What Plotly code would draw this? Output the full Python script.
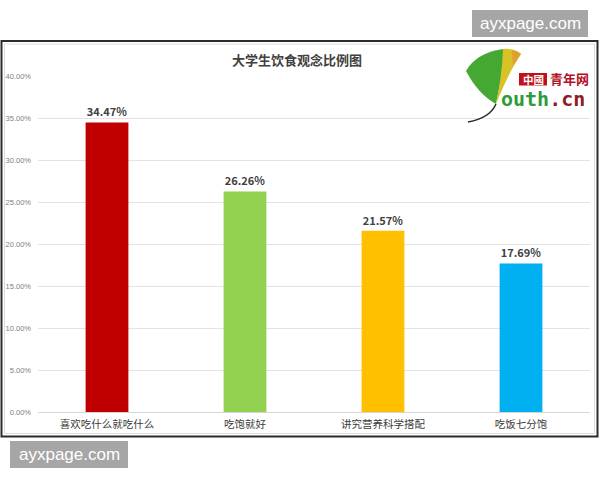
import plotly.graph_objects as go

categories = ["喜欢吃什么就吃什么", "吃饱就好", "讲究营养科学搭配", "吃饭七分饱"]
values = [0.3447, 0.2626, 0.2157, 0.1769]
colors = ["#C00000", "#92D050", "#FFC000", "#00B0F0"]
title_text = "大学生饮食观念比例图"
y_ticks = [0, 0.05, 0.10, 0.15, 0.20, 0.25, 0.30, 0.35, 0.40]

W, H = 600, 480
ML, MR, MT, MB = 38, 10, 76, 68
PW, PH = W - ML - MR, H - MT - MB


def px(x):
    return (x - ML) / PW


def py(y):
    return (H - MB - y) / PH


fig = go.Figure(go.Bar(
    x=categories, y=values,
    marker=dict(color=colors, line=dict(width=0)),
    texttemplate="%{y:.2%}", textposition="outside",
    textfont=dict(family="Noto Sans CJK SC", size=11, color="#404040", weight="bold"),
    cliponaxis=False,
))

shapes = []
# outer frame
shapes.append(dict(type="rect", xref="paper", yref="paper",
                   x0=px(1.5), x1=px(597.5), y0=py(436.5), y1=py(41),
                   line=dict(color="#2b2b2b", width=2), layer="below"))
shapes.append(dict(type="rect", xref="paper", yref="paper",
                   x0=px(4.5), x1=px(594.5), y0=py(433.5), y1=py(44),
                   line=dict(color="#dcdcdc", width=1), layer="below"))
# watermark boxes
shapes.append(dict(type="rect", xref="paper", yref="paper",
                   x0=px(472), x1=px(588), y0=py(37), y1=py(10),
                   fillcolor="#a6a6a6", line=dict(width=0), layer="above"))
shapes.append(dict(type="rect", xref="paper", yref="paper",
                   x0=px(10), x1=px(128), y0=py(468), y1=py(441),
                   fillcolor="#a6a6a6", line=dict(width=0), layer="above"))


def P(a, b):
    return f"{px(a):.4f},{py(b):.4f}"


# ginkgo leaf logo (decorative)
shapes.append(dict(type="path", xref="paper", yref="paper",
                   path=(f"M {P(466, 71)} Q {P(476, 53)} {P(503, 49)} L {P(506, 50)} "
                         f"Q {P(502, 76)} {P(496, 104)} Q {P(478, 94)} {P(466, 71)} Z"),
                   fillcolor="#45a832", line=dict(width=0)))
shapes.append(dict(type="path", xref="paper", yref="paper",
                   path=(f"M {P(503, 49)} Q {P(515, 48)} {P(521, 54)} "
                         f"Q {P(509, 72)} {P(496, 104)} Q {P(502, 76)} {P(503, 49)} Z"),
                   fillcolor="#d9c228", line=dict(width=0)))
shapes.append(dict(type="path", xref="paper", yref="paper",
                   path=(f"M {P(512, 50)} Q {P(518, 51)} {P(521, 54)} "
                         f"Q {P(517, 60)} {P(513, 66)} Z"),
                   fillcolor="#e0a030", line=dict(width=0)))
shapes.append(dict(type="path", xref="paper", yref="paper",
                   path=f"M {P(496, 104)} Q {P(490, 118)} {P(468, 122)}",
                   line=dict(color="#2a2a2a", width=1.5)))
shapes.append(dict(type="rect", xref="paper", yref="paper",
                   x0=px(519), x1=px(547), y0=py(85.5), y1=py(73),
                   fillcolor="#c0101a", line=dict(width=0)))


def ann(text, x, y, **font):
    return dict(text=text, xref="paper", yref="paper", x=px(x), y=py(y),
                xanchor="center", yanchor="middle", showarrow=False, font=font)


annotations = [
    ann("ayxpage.com", 530, 23.5, family="Liberation Sans", size=17, color="white"),
    ann("ayxpage.com", 69, 454.5, family="Liberation Sans", size=17, color="white"),
    ann("中國", 533, 79.5, family="Noto Sans CJK TC", size=10.5, color="white", weight="bold"),
    ann("青年网", 569, 79, family="Noto Sans CJK SC", size=13, color="#b01226", weight="bold"),
    ann("outh<span style='color:#8e1b26'>.cn</span>", 543, 99,
        family="DejaVu Sans Mono", size=20, color="#2f9a3a", weight="bold"),
]

fig.update_layout(
    width=W, height=H,
    margin=dict(l=ML, r=MR, t=MT, b=MB, pad=0, autoexpand=False),
    paper_bgcolor="white", plot_bgcolor="white",
    title=dict(text=title_text, x=px(297), xref="paper", xanchor="center",
               y=1 - 60 / H, yanchor="middle",
               font=dict(family="Noto Sans CJK SC", size=13, color="#404040", weight="bold")),
    bargap=0.69,
    showlegend=False,
    xaxis=dict(showgrid=False, showline=False, ticks="", zeroline=False, automargin=False,
               ticklabelstandoff=4,
               tickfont=dict(family="Noto Sans CJK SC", size=10.5, color="#3a3a3a")),
    yaxis=dict(range=[0, 0.40], tickvals=y_ticks, tickformat=".2%", automargin=False,
               showgrid=True, gridcolor="#e3e3e3", gridwidth=1,
               zeroline=True, zerolinecolor="#d6d6d6", zerolinewidth=1,
               showline=False, ticks="", ticklabelstandoff=6,
               tickfont=dict(family="Liberation Sans", size=7.5, color="#808080")),
    shapes=shapes, annotations=annotations,
)

fig.write_html("out.html", config={"displayModeBar": False},
               post_script="document.body.style.margin='0';document.body.style.padding='0';document.body.style.overflow='hidden';")
